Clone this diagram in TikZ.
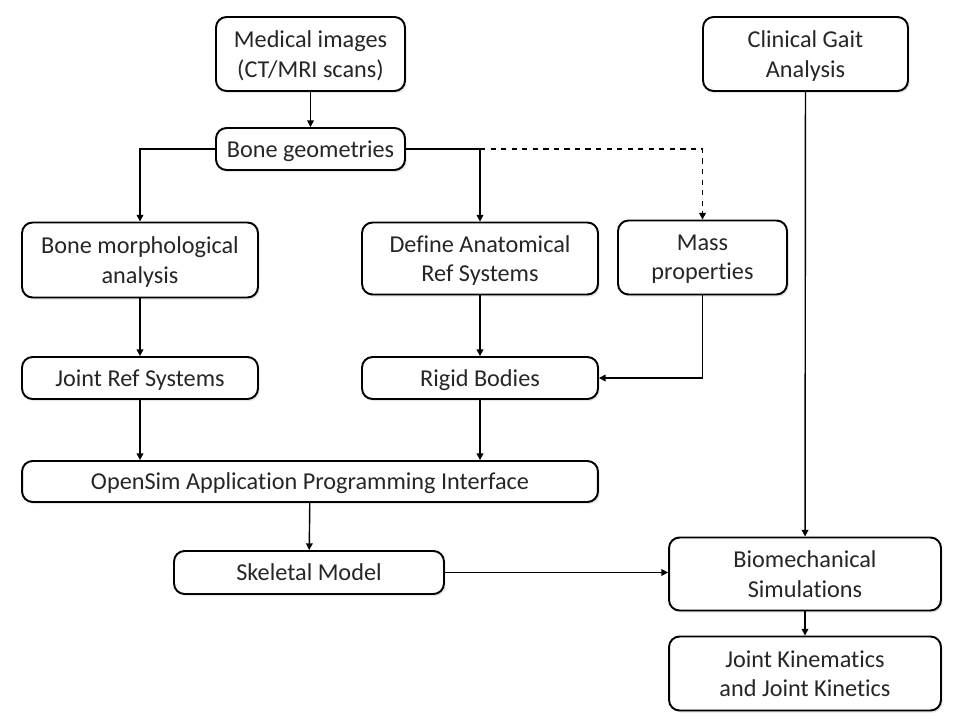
\documentclass[tikz,border=0pt]{standalone}
\usepackage{fontspec}
\setmainfont[Ligatures={NoCommon}]{Carlito}
\usepackage{tikz}
\usetikzlibrary{arrows.meta, positioning, calc, shadows}

\tikzset{
    flowbox/.style={draw, line width=1.1pt, rounded corners=6pt, fill=white, align=center,
        inner sep=2pt, text depth=0pt, text=black!85, font=\fontsize{13.8}{16.6}\selectfont,
        drop shadow={shadow xshift=1pt, shadow yshift=-1.2pt, opacity=0.2}},
    flowline/.style={line width=0.8pt, -{Triangle[length=3.8pt,width=3.8pt]}}
}

\begin{document}
\begin{tikzpicture}[x=0.02cm, y=-0.02cm]
\useasboundingbox (0,0) rectangle (960,720);

% top row
\node[flowbox, minimum width=3.78cm, minimum height=1.48cm] (med) at (310.5,54) {Medical images\\(CT/MRI scans)};
\node[flowbox, minimum width=4.1cm, minimum height=1.48cm] (gait) at (805.5,54) {Clinical Gait\\Analysis};
\node[flowbox, minimum width=3.78cm, minimum height=0.84cm] (geom) at (310.5,149) {Bone geometries};

% second row
\node[flowbox, minimum width=4.72cm, minimum height=1.5cm] (morph) at (140,260) {Bone morphological\\analysis};
\node[flowbox, minimum width=4.72cm, minimum height=1.44cm] (anat) at (480,258.5) {Define Anatomical\\Ref Systems};
\node[flowbox, minimum width=3.38cm, minimum height=1.48cm] (mass) at (702.5,257.5) {Mass\\properties};

% third row
\node[flowbox, minimum width=4.72cm, minimum height=0.84cm] (jrs) at (140,378) {Joint Ref Systems};
\node[flowbox, minimum width=4.72cm, minimum height=0.84cm] (rigid) at (480,378) {Rigid Bodies};

% model
\node[flowbox, minimum width=11.52cm, minimum height=0.82cm] (api) at (310,481.5) {OpenSim Application Programming Interface};
\node[flowbox, minimum width=5.4cm, minimum height=0.86cm] (skel) at (309,572.5) {Skeletal Model};
\node[flowbox, minimum width=5.44cm, minimum height=1.46cm] (bio) at (805,574) {Biomechanical\\Simulations};
\node[flowbox, minimum width=5.44cm, minimum height=1.48cm] (kin) at (805,673.5) {Joint Kinematics\\and Joint Kinetics};

% connectors
\draw[flowline] (med) -- (geom);
\draw[flowline] (geom.west) -| (morph.north);
\draw[flowline] (geom.east) -| (anat.north);
\coordinate (split) at (anat.north |- geom.east);
\draw[flowline, dashed] (split) -| (mass.north);
\draw[flowline] (morph) -- (jrs);
\draw[flowline] (anat) -- (rigid);
\draw[flowline] (mass.south) |- (rigid.east);
\draw[flowline] (jrs.south) -- (jrs.south |- api.north);
\draw[flowline] (rigid.south) -- (rigid.south |- api.north);
\draw[flowline] (api) -- (skel);
\draw[flowline] (skel.east) -- (skel.east -| bio.west);
\draw[flowline] (gait) -- (bio);
\draw[flowline] (bio) -- (kin);
\end{tikzpicture}
\end{document}
